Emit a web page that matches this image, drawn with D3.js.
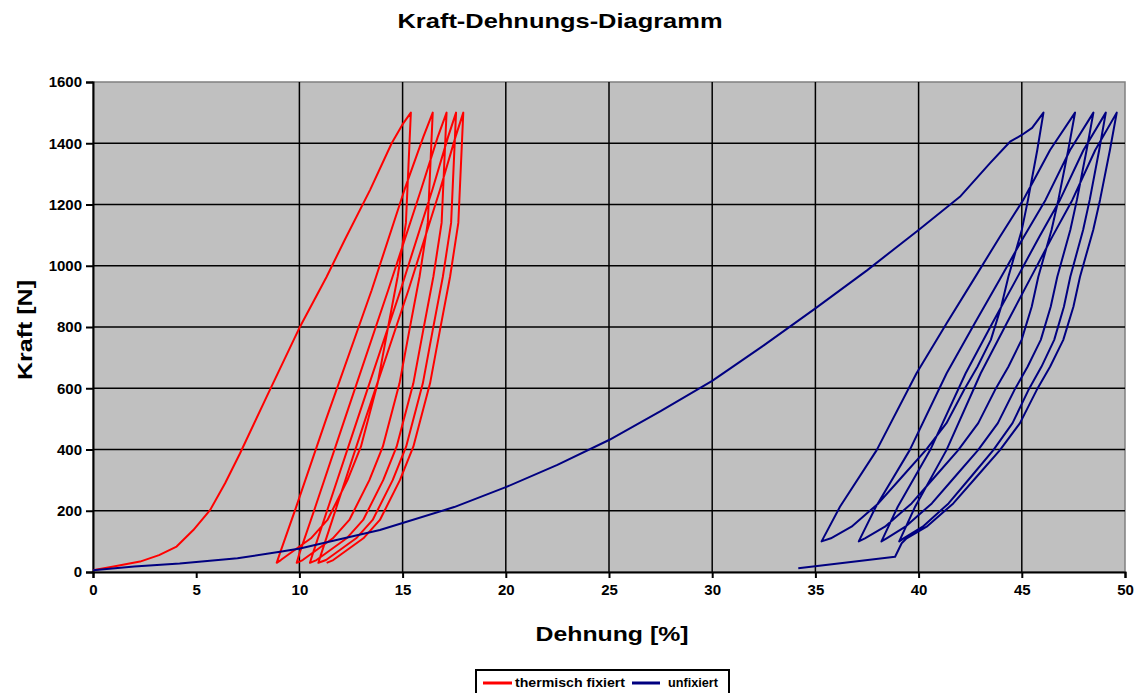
<!DOCTYPE html>
<html>
<head>
<meta charset="utf-8">
<script src="https://d3js.org/d3.v7.min.js"></script>
<style type="text/css">
  body { margin: 0; background: #fff; }
  text { font-family: "Liberation Sans", Arial, sans-serif; font-weight: bold; fill: #000; }
</style>
</head>
<body>
<script type="text/javascript">

// Werte: [Dehnung %, Kraft N]
var seriesNames = ["thermisch fixiert", "unfixiert"];
var seriesColors = ["#ff0000", "#000080"];
var xTicks = [0, 5, 10, 15, 20, 25, 30, 35, 40, 45, 50];
var xGrid = [10, 15, 20, 25, 30, 35, 40, 45];
var yTicks = [0, 200, 400, 600, 800, 1000, 1200, 1400, 1600];

var fixiert = [
  // erste Belastung
  [0,6],[1,18],[2.28,34],[3.2,55],[4.05,83],[4.86,137],[5.67,202],[6.4,290],[7.12,387],[8.41,572],
  [10.03,801],[11.32,964],[12.2,1085],[13.42,1247],[14.47,1400],[15.03,1465],[15.4,1500],
  // Zyklus 1
  [15.16,1140],[14.76,964],[14.27,790],[13.79,616],[12.98,409],[12.33,300],[11.36,170],[10.56,110],[9.1,39],[8.9,30],
  [9.05,60],[9.82,208],[11.3,500],[13.5,920],[15.1,1250],[16.0,1420],[16.46,1500],
  // Zyklus 2
  [16.22,1140],[15.82,964],[15.33,790],[14.85,616],[14.04,409],[13.39,300],[12.42,170],[11.62,110],[10.16,39],[9.87,30],
  [10.0,60],[10.75,208],[12.2,500],[14.3,920],[15.9,1250],[16.7,1420],[17.13,1500],
  // Zyklus 3
  [16.89,1140],[16.49,964],[16.0,790],[15.52,616],[14.71,409],[14.06,300],[13.09,170],[12.29,110],[10.83,39],[10.51,30],
  [10.65,60],[11.38,208],[12.82,500],[14.9,920],[16.45,1250],[17.2,1420],[17.59,1500],
  // Zyklus 4
  [17.35,1140],[16.95,964],[16.46,790],[15.98,616],[15.17,409],[14.52,300],[13.55,170],[12.75,110],[11.29,39],[10.92,30],
  [11.06,60],[11.78,208],[13.2,500],[15.28,920],[16.82,1250],[17.56,1420],[17.94,1500],
  // Entlastung 5
  [17.7,1140],[17.3,964],[16.81,790],[16.33,616],[15.52,409],[14.87,300],[13.9,170],[13.1,110],[11.64,39],[11.32,30]
];

var unfixiert = [
  // erste Belastung
  [0,6],[2,18],[4.2,28],[7,45],[9.06,66],[10.03,77],[11.64,102],[13.9,137],[15,160],[17.5,212],
  [20,277],[22.5,350],[25,431],[27.5,525],[30,624],[32.5,740],[35,861],[37.5,985],[40,1117],
  [42,1225],[43.46,1335],[44.43,1405],[45,1427],[45.5,1450],[46.05,1500],
  // Zyklus 1
  [45.75,1378],[45.3,1215],[45.0,1117],[44.35,964],[44.0,866],[43.5,758],[42.85,670],[42.2,594],
  [41.35,486],[40.35,398],[39.2,311],[38.05,224],[36.75,148],[35.75,110],[35.3,100],
  [36.19,213],[37.97,398],[39.9,649],[41.36,812],[42.65,953],[43.94,1095],[45.07,1215],[46.37,1378],[47.58,1500],
  // Zyklus 2
  [47.25,1378],[46.77,1215],[46.44,1117],[45.8,964],[45.48,866],[44.99,758],[44.35,670],[43.7,594],
  [42.89,486],[41.92,398],[40.79,311],[39.66,224],[38.37,148],[37.4,110],[37.1,100],
  [37.93,213],[39.57,398],[41.36,649],[42.72,812],[43.91,953],[45.1,1095],[46.15,1215],[47.34,1378],[48.47,1500],
  // Zyklus 3
  [48.14,1378],[47.67,1215],[47.35,1117],[46.72,964],[46.4,866],[45.92,758],[45.28,670],[44.64,594],
  [43.84,486],[42.88,398],[41.76,311],[40.64,224],[39.36,148],[38.45,110],[38.2,100],
  [38.99,213],[40.56,398],[42.28,649],[43.57,812],[44.71,953],[45.85,1095],[46.85,1215],[47.99,1378],[49.07,1500],
  // Zyklus 4
  [48.75,1378],[48.29,1215],[47.97,1117],[47.35,964],[47.04,866],[46.57,758],[45.95,670],[45.32,594],
  [44.55,486],[43.62,398],[42.54,311],[41.45,224],[40.2,148],[39.27,110],[39.06,100],
  [39.83,213],[41.35,398],[43.01,649],[44.27,812],[45.37,953],[46.48,1095],[47.45,1215],[48.56,1378],[49.6,1500],
  // Entlastung 5
  [49.27,1378],[48.79,1215],[48.46,1117],[47.82,964],[47.5,866],[47.01,758],[46.37,670],[45.72,594],
  [44.91,486],[43.94,398],[42.81,311],[41.68,224],[40.39,148],[39.42,110],[39.18,94],[38.86,50],[34.17,12]
];

var W = 1135, H = 693;
var margin = {top: 82, right: 10, bottom: 121, left: 93};
var width = 1125 - margin.left;
var height = 572 - margin.top;

var svg = d3.select("body").append("svg")
    .attr("width", W)
    .attr("height", H);

svg.append("rect").attr("width", W).attr("height", H).attr("fill", "#fff");

var x = d3.scaleLinear().domain([0, 50]).range([0, width]);
var y = d3.scaleLinear().domain([0, 1600]).range([height, 0]);

var g = svg.append("g")
    .attr("transform", "translate(" + margin.left + "," + margin.top + ")");

// Zeichenflaeche
g.append("rect")
    .attr("width", width)
    .attr("height", height)
    .attr("fill", "#c0c0c0")
    .attr("stroke", "#808080")
    .attr("stroke-width", 1.5);

// Gitter
g.selectAll(".hgrid")
    .data(yTicks.filter(function(d) { return d > 0 && d < 1600; }))
    .enter().append("line")
    .attr("x1", 0).attr("x2", width)
    .attr("y1", function(d) { return y(d); })
    .attr("y2", function(d) { return y(d); })
    .attr("stroke", "#000").attr("stroke-width", 1.5);

g.selectAll(".vgrid")
    .data(xGrid)
    .enter().append("line")
    .attr("y1", 0).attr("y2", height)
    .attr("x1", function(d) { return x(d); })
    .attr("x2", function(d) { return x(d); })
    .attr("stroke", "#000").attr("stroke-width", 1.5);

// Achsen
var xAxis = d3.axisBottom(x).tickValues(xTicks).tickFormat(d3.format("d")).tickSize(6).tickPadding(6);
var yAxis = d3.axisLeft(y).tickValues(yTicks).tickFormat(d3.format("d")).tickSize(7).tickPadding(4);

var gx = g.append("g").attr("transform", "translate(0," + height + ")").call(xAxis);
var gy = g.append("g").call(yAxis);

[gx, gy].forEach(function(ax) {
  ax.select(".domain").attr("stroke", "#000").attr("stroke-width", 2);
  ax.selectAll(".tick line").attr("stroke", "#000").attr("stroke-width", 2);
  ax.selectAll(".tick text")
    .attr("font-family", "'Liberation Sans', Arial, sans-serif")
    .attr("font-weight", "bold")
    .attr("fill", "#000");
});
gy.selectAll(".tick text").attr("font-size", 15);
gx.selectAll(".tick text").attr("font-size", 15);

// Kurven
var line = d3.line()
    .x(function(d) { return x(d[0]); })
    .y(function(d) { return y(d[1]); });

[fixiert, unfixiert].forEach(function(data, i) {
  g.append("path")
    .datum(data)
    .attr("d", line)
    .attr("fill", "none")
    .attr("stroke", seriesColors[i])
    .attr("stroke-width", 2)
    .attr("stroke-linejoin", "round");
});

// Titel und Achsentitel
svg.append("text")
    .attr("x", 560).attr("y", 28)
    .attr("text-anchor", "middle")
    .attr("font-size", 21)
    .attr("textLength", 325).attr("lengthAdjust", "spacingAndGlyphs")
    .text("Kraft-Dehnungs-Diagramm");

svg.append("text")
    .attr("x", 612).attr("y", 641)
    .attr("text-anchor", "middle")
    .attr("font-size", 21)
    .attr("textLength", 153).attr("lengthAdjust", "spacingAndGlyphs")
    .text("Dehnung [%]");

svg.append("text")
    .attr("transform", "translate(32,330) rotate(-90)")
    .attr("text-anchor", "middle")
    .attr("font-size", 21)
    .attr("textLength", 100).attr("lengthAdjust", "spacingAndGlyphs")
    .text("Kraft [N]");

// Legende
var legend = svg.append("g").attr("transform", "translate(476,670)");
legend.append("rect")
    .attr("width", 253).attr("height", 30)
    .attr("fill", "#fff").attr("stroke", "#000").attr("stroke-width", 2);

var legendItems = [
  {x1: 7, x2: 36, tx: 39, tl: 110},
  {x1: 156, x2: 184, tx: 192, tl: 50}
];
legendItems.forEach(function(d, i) {
  legend.append("line")
    .attr("x1", d.x1).attr("x2", d.x2)
    .attr("y1", 13).attr("y2", 13)
    .attr("stroke", seriesColors[i]).attr("stroke-width", 3);
  legend.append("text")
    .attr("x", d.tx).attr("y", 17)
    .attr("font-size", 13)
    .attr("textLength", d.tl).attr("lengthAdjust", "spacingAndGlyphs")
    .text(seriesNames[i]);
});

</script>
</body>
</html>
